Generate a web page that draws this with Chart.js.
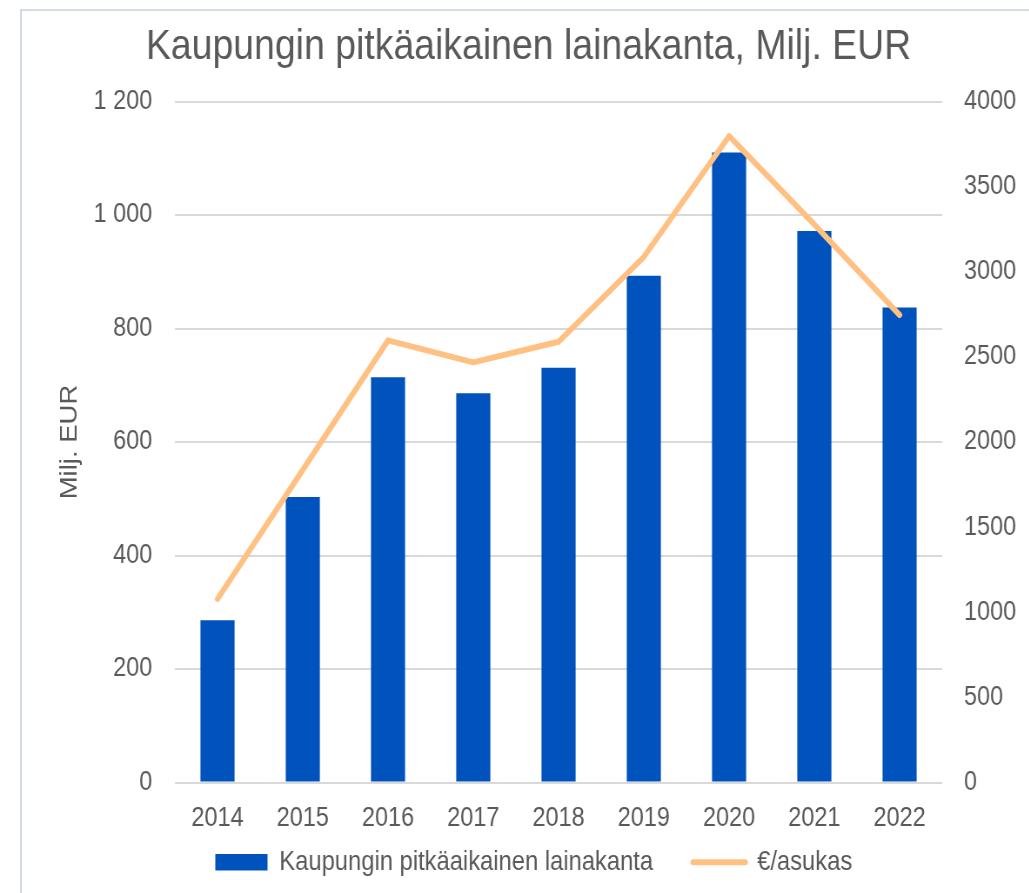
<!DOCTYPE html>
<html>
<head>
<meta charset="utf-8">
<script src="https://cdn.jsdelivr.net/npm/chart.js@4/dist/chart.umd.min.js"></script>
<style>
  html, body { margin: 0; padding: 0; background: #fff; overflow: hidden; }
  #frame {
    position: absolute; left: 20px; top: 9px; width: 1100px; height: 1000px;
    border: 2px solid #d3dce6; box-sizing: border-box;
  }
  /* the reference is squeezed horizontally, so draw wider and scale x */
  #wrap {
    position: absolute; left: 0; top: 0; width: 1183px; height: 893px;
    transform: scaleX(0.87); transform-origin: 0 0;
  }
</style>
</head>
<body>
<div id="frame"></div>
<div id="wrap"><canvas id="chart"></canvas></div>
<script>
// --- Data ---
const years = ['2014', '2015', '2016', '2017', '2018', '2019', '2020', '2021', '2022'];
const loanStock = [286, 503, 714, 686, 731, 893, 1110, 972, 837];       // Milj. EUR
const perResident = [1078, 1836, 2597, 2468, 2589, 3087, 3797, 3278, 2746]; // €/asukas
const seriesNames = ['Kaupungin pitkäaikainen lainakanta', '€/asukas'];
const chartTitle = 'Kaupungin pitkäaikainen lainakanta, Milj. EUR';
const leftAxisTitle = 'Milj. EUR';

const BAR_COLOR = '#0052bc';
const LINE_COLOR = '#ffc081';
const TEXT_COLOR = '#595959';
const FONT = 'Liberation Sans, Arial, sans-serif';

function spaceThousands(v) {
  return String(v).replace(/\B(?=(\d{3})+(?!\d))/g, ' ');
}

// legend padding is used both ways; keep the wide gap between items
// but move the legend box up under the axis labels (box is also the clip area)
const legendNudge = {
  id: 'legendNudge',
  afterLayout(chart) {
    const lg = chart.legend;
    if (!lg) return;
    lg.top = 802.5;
    lg.bottom = 893;
    lg.height = lg.bottom - lg.top;
    lg.left += 6; lg.right += 6;
  }
};

const ctx = document.getElementById('chart').getContext('2d');
new Chart(ctx, {
  data: {
    labels: years,
    datasets: [
      {
        type: 'bar', label: seriesNames[0], data: loanStock, yAxisID: 'y',
        backgroundColor: BAR_COLOR, barPercentage: 0.4, categoryPercentage: 1, order: 2
      },
      {
        type: 'line', label: seriesNames[1], data: perResident, yAxisID: 'y1',
        borderColor: LINE_COLOR, borderWidth: 6, pointRadius: 0, tension: 0,
        borderCapStyle: 'round', borderJoinStyle: 'round', order: 1
      }
    ]
  },
  plugins: [legendNudge],
  options: {
    responsive: true,
    maintainAspectRatio: false,
    animation: false,
    layout: { padding: { left: 32, right: 0, top: 0, bottom: 35.5 } },
    plugins: {
      title: {
        display: true, text: chartTitle, color: TEXT_COLOR,
        font: { family: FONT, size: 43, weight: 'normal' },
        padding: { top: 21, bottom: 28.9 }
      },
      legend: {
        position: 'bottom', align: 'center', maxHeight: 30,
        labels: {
          color: TEXT_COLOR, font: { family: FONT, size: 27.3 },
          usePointStyle: true, pointStyleWidth: 60, boxHeight: 16.5, padding: 46,
          generateLabels: () => [
            { text: seriesNames[0], fillStyle: BAR_COLOR, strokeStyle: BAR_COLOR, lineWidth: 0,
              pointStyle: 'rect', datasetIndex: 0, fontColor: TEXT_COLOR },
            { text: seriesNames[1], fillStyle: LINE_COLOR, strokeStyle: LINE_COLOR, lineWidth: 6,
              lineCap: 'round', pointStyle: 'line', datasetIndex: 1, fontColor: TEXT_COLOR }
          ]
        }
      },
      tooltip: { enabled: false }
    },
    scales: {
      x: {
        grid: { display: false }, border: { display: false },
        ticks: { color: TEXT_COLOR, font: { family: FONT, size: 27 }, padding: 12 },
        afterFit: s => { s.height = 45; }
      },
      y: {
        position: 'left', min: 0, max: 1200,
        grid: { color: '#d9d9d9', lineWidth: 2, drawTicks: false }, border: { display: false },
        ticks: { stepSize: 200, color: TEXT_COLOR, font: { family: FONT, size: 27 }, padding: 26,
                 callback: v => spaceThousands(v) },
        title: { display: true, text: leftAxisTitle, color: TEXT_COLOR,
                 font: { family: FONT, size: 27.5 }, padding: { top: 32, bottom: 0 } },
        afterFit: s => { s.width = 169; }
      },
      y1: {
        position: 'right', min: 0, max: 4000,
        grid: { display: false }, border: { display: false },
        ticks: { stepSize: 500, color: TEXT_COLOR, font: { family: FONT, size: 27 }, padding: 17,
                 callback: v => String(v) },
        afterFit: s => { s.width = 100; }
      }
    }
  }
});
</script>
</body>
</html>
